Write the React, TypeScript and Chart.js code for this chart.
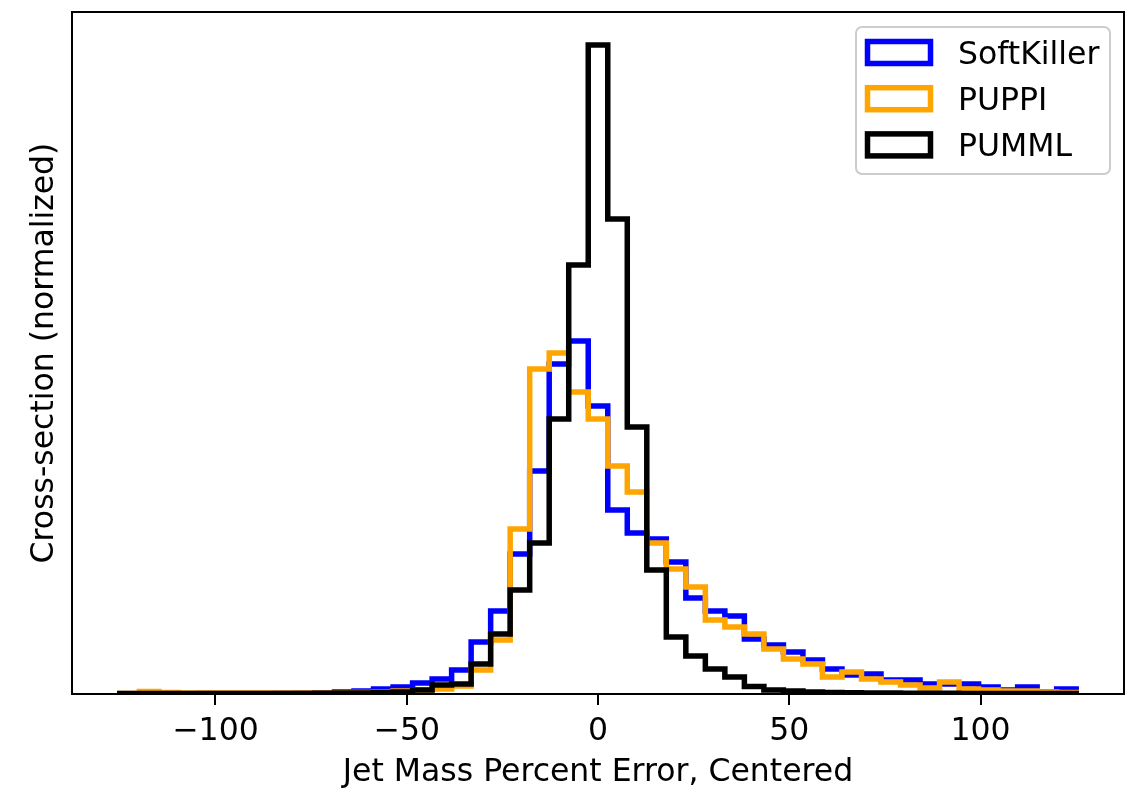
import React, { useEffect, useRef } from "react";
import { Chart, registerables } from "chart.js";

Chart.register(...registerables);

// Histogram binning (49 equal bins spanning -125 .. 125)
const BIN_MIN = -125;
const BIN_MAX = 125;
const N_BINS = 49;

// Axis
const X_MIN = -137.5;
const X_MAX = 137.5;
const Y_MAX = 682;
const X_TICKS = [-100, -50, 0, 50, 100];
const X_TITLE = "Jet Mass Percent Error, Centered";
const Y_TITLE = "Cross-section (normalized)";

// Series
const SERIES_LABELS = ["SoftKiller", "PUPPI", "PUMML"];
const SERIES_COLORS = ["#0000ff", "#ffa500", "#000000"];

const softKiller = [
  0.3, 0.3, 0.3, 0.3, 0.4, 0.4, 0.5, 0.6, 0.7, 0.9, 1.2, 2,
  3, 5, 7, 11, 15, 24, 52, 83, 140, 223, 330, 353, 288,
  184, 161, 155, 132, 96, 83, 78, 55, 49, 42, 34, 25, 19, 20,
  14, 14, 10, 10, 10, 7, 4, 7, 2, 5,
];

const puppi = [
  0.5, 2.5, 1.5, 1, 1, 1, 1, 1, 1, 1, 1, 1.2,
  1.5, 2, 3, 4, 5, 8, 24, 54, 165, 325, 341, 302, 275,
  228, 202, 151, 125, 107, 74, 67, 60, 45, 35, 30, 17, 22, 15,
  12, 9, 6, 12, 5, 4, 3, 3, 2, 1.5,
];

const pumml = [
  0.5, 0.5, 0.5, 0.5, 0.5, 0.5, 0.5, 0.5, 0.5, 0.5, 0.7, 1,
  1, 1.5, 2, 4, 9, 10, 30, 60, 104, 151, 275, 429, 649,
  475, 267, 124, 57, 38, 25, 17, 7.5, 4, 3, 2, 1.5, 1.2, 1,
  1, 0.8, 0.8, 0.7, 0.6, 0.5, 0.5, 0.5, 0.4, 0.4,
];

const SERIES_VALUES = [softKiller, puppi, pumml];

function stepOutline(values: number[]) {
  const w = (BIN_MAX - BIN_MIN) / N_BINS;
  const pts: { x: number; y: number }[] = [{ x: BIN_MIN, y: 0 }];
  values.forEach((v, i) => pts.push({ x: BIN_MIN + i * w, y: v }));
  pts.push({ x: BIN_MAX, y: 0 });
  return pts;
}

const FONT = '"DejaVu Sans", "Liberation Sans", sans-serif';
const FONT_SIZE = 31.5;

const framePlugin = {
  id: "mplFrame",
  afterDatasetsDraw(chart: any) {
    const { ctx, chartArea: a } = chart;
    ctx.save();
    ctx.strokeStyle = "#000";
    ctx.lineWidth = 2;
    ctx.strokeRect(a.left, a.top, a.right - a.left, a.bottom - a.top);
    ctx.restore();
  },
};

const legendPlugin = {
  id: "mplLegend",
  afterDraw(chart: any) {
    const { ctx, chartArea: a } = chart;
    const boxRight = a.right - 14;
    const boxLeft = boxRight - 254;
    const boxTop = a.top + 15;
    const boxH = 147;
    ctx.save();
    ctx.beginPath();
    ctx.roundRect(boxLeft, boxTop, boxRight - boxLeft, boxH, 6);
    ctx.fillStyle = "rgba(255,255,255,0.8)";
    ctx.fill();
    ctx.strokeStyle = "#cccccc";
    ctx.lineWidth = 2;
    ctx.stroke();
    chart.data.datasets.forEach((ds: any, i: number) => {
      const cy = boxTop + 25.5 + i * 46.2;
      const hx = boxLeft + 11.5;
      ctx.fillStyle = "#ffffff";
      ctx.fillRect(hx, cy - 11, 63, 22);
      ctx.strokeStyle = ds.borderColor;
      ctx.lineWidth = 5.5;
      ctx.lineJoin = "miter";
      ctx.strokeRect(hx, cy - 11, 63, 22);
      ctx.fillStyle = "#000";
      ctx.font = FONT_SIZE + "px " + FONT;
      ctx.textAlign = "left";
      ctx.textBaseline = "alphabetic";
      ctx.fillText(ds.label, boxLeft + 102, cy + 11.5);
    });
    ctx.restore();
  },
};

export default function App() {
  const canvasRef = useRef<HTMLCanvasElement | null>(null);

  useEffect(() => {
    document.body.style.margin = "0";
    const canvas = canvasRef.current;
    if (!canvas) return;
    Chart.defaults.font.family = FONT;
    Chart.defaults.color = "#000";

    const datasets = SERIES_VALUES.map((vals, i) => ({
      label: SERIES_LABELS[i],
      data: stepOutline(vals),
      borderColor: SERIES_COLORS[i],
      backgroundColor: "#ffffff",
      borderWidth: 5.5,
      fill: false,
      stepped: "before" as const,
      pointRadius: 0,
      pointHoverRadius: 0,
      tension: 0,
      order: SERIES_LABELS.length - i,
    }));

    const chart = new Chart(canvas, {
      type: "line",
      data: { datasets },
      options: {
        animation: false,
        responsive: false,
        events: [],
        layout: { padding: { top: 12, right: 2, left: 0, bottom: 0 } },
        plugins: {
          legend: { display: false },
          tooltip: { enabled: false },
        },
        scales: {
          x: {
            type: "linear",
            min: X_MIN,
            max: X_MAX,
            afterFit: (scale: any) => {
              scale.height = 95;
            },
            afterBuildTicks: (scale: any) => {
              scale.ticks = X_TICKS.map((v) => ({ value: v }));
            },
            border: { display: false },
            grid: {
              display: true,
              drawOnChartArea: false,
              drawTicks: true,
              tickLength: 11,
              color: "#000",
              lineWidth: 2,
            },
            ticks: {
              padding: 8,
              color: "#000",
              font: { size: FONT_SIZE, family: FONT },
              maxRotation: 0,
              callback: (v: any) => {
                const n = Number(v);
                return n < 0 ? "\u2212" + Math.abs(n) : String(n);
              },
            },
            title: {
              display: true,
              text: X_TITLE,
              color: "#000",
              font: { size: FONT_SIZE, family: FONT, lineHeight: 1 },
              padding: { top: 0, bottom: 0 },
            },
          },
          y: {
            type: "linear",
            min: 0,
            max: Y_MAX,
            afterFit: (scale: any) => {
              scale.width = 72;
            },
            border: { display: false },
            grid: { display: false },
            ticks: { display: false },
            title: {
              display: true,
              text: Y_TITLE,
              color: "#000",
              font: { size: FONT_SIZE, family: FONT, lineHeight: 1 },
              padding: { top: 29, bottom: 0 },
            },
          },
        },
      },
      plugins: [framePlugin, legendPlugin],
    });

    return () => chart.destroy();
  }, []);

  return (
    <div style={{ width: 1126, height: 789 }}>
      <canvas
        ref={canvasRef}
        width={1126}
        height={789}
        style={{ display: "block", width: 1126, height: 789 }}
      />
    </div>
  );
}
